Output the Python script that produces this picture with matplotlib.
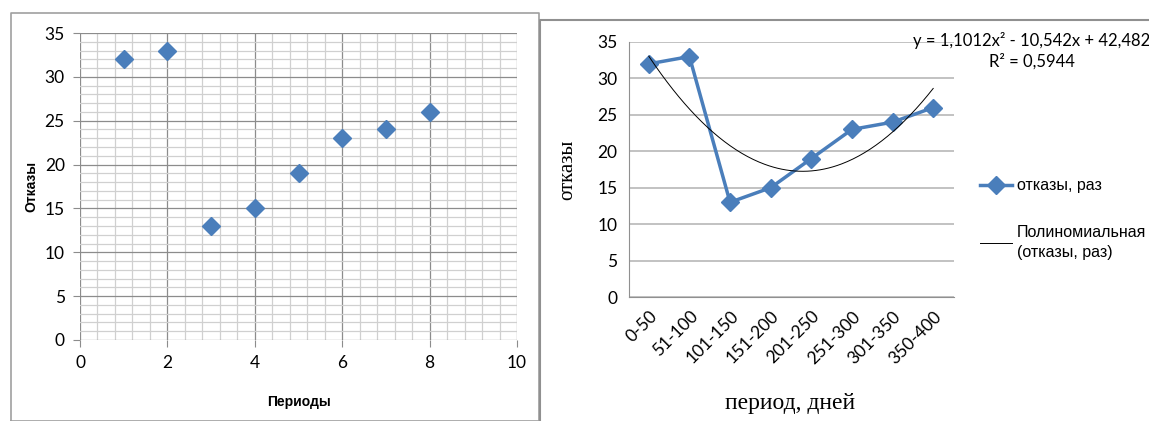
import numpy as np
import matplotlib.pyplot as plt
from matplotlib.lines import Line2D
from matplotlib.ticker import MultipleLocator

# data
periods = [1, 2, 3, 4, 5, 6, 7, 8]
failures = [32, 33, 13, 15, 19, 23, 24, 26]
intervals = ['0-50', '51-100', '101-150', '151-200', '201-250', '251-300', '301-350', '350-400']
trend_text = 'y = 1,1012x² - 10,542x + 42,482\nR² = 0,5944'

narrow = ['Lato', 'DejaVu Sans']
serif = ['Liberation Serif', 'DejaVu Serif']
blue = '#4a7ebb'

fig = plt.figure(figsize=(11.49, 4.21), dpi=100)

# panel frames
fig.add_artist(Line2D([11/1149, 539/1149, 539/1149, 11/1149, 11/1149],
                      [0, 0, 1-13/421, 1-13/421, 0], color='#a0a0a0', lw=1.2))
fig.add_artist(Line2D([540/1149, 540/1149, 1], [0, 1-20/421, 1-20/421],
                      color='#909090', lw=1.5))

# left chart: scatter
ax1 = fig.add_axes([80/1149, 1-340/421, 437/1149, 307/421])
ax1.plot(periods, failures, linestyle='none', marker='D', markersize=9,
         color=blue)
ax1.set_xlim(0, 10)
ax1.set_ylim(0, 35)
ax1.xaxis.set_major_locator(MultipleLocator(2))
ax1.xaxis.set_minor_locator(MultipleLocator(0.4))
ax1.yaxis.set_major_locator(MultipleLocator(5))
ax1.yaxis.set_minor_locator(MultipleLocator(1))
ax1.grid(which='major', color='#8c8c8c', lw=0.9)
ax1.grid(which='minor', color='#d0d0d0', lw=0.9)
ax1.set_axisbelow(True)
for s in ax1.spines.values():
    s.set_visible(False)
ax1.tick_params(which='major', length=5, color='#8c8c8c', labelsize=12.5, pad=6)
ax1.tick_params(which='minor', length=0)
for lab in ax1.get_xticklabels() + ax1.get_yticklabels():
    lab.set_family(narrow)
ax1.set_xlabel('Периоды', fontsize=10, fontweight='bold', family='Liberation Sans')
ax1.set_ylabel('Отказы', fontsize=10, fontweight='bold', family='Liberation Sans')
ax1.xaxis.set_label_coords(0.5, -0.179)
ax1.yaxis.set_label_coords(-0.096, 0.5)

# right chart: line + polynomial trend
ax2 = fig.add_axes([628.5/1149, 1-297/421, 325/1149, 255/421])
xs = np.arange(len(intervals))
ax2.plot(xs, failures, color=blue, lw=2.5, marker='D', markersize=9,
         label='отказы, раз')
coef = np.polyfit(periods, failures, 2)
xt = np.linspace(1, 8, 200)
ax2.plot(xt - 1, np.polyval(coef, xt), color='black', lw=0.7,
         label='Полиномиальная\n(отказы, раз)')
ax2.set_xlim(-0.5, len(intervals) - 0.5)
ax2.set_ylim(0, 35)
ax2.set_xticks(xs)
ax2.set_xticklabels(intervals, rotation=45, ha='right', rotation_mode='anchor')
ax2.yaxis.set_major_locator(MultipleLocator(5))
ax2.grid(axis='y', color='#b8b8b8', lw=1.2)
ax2.set_axisbelow(True)
for k in ['top', 'right']:
    ax2.spines[k].set_visible(False)
ax2.spines['left'].set_color('#909090')
ax2.spines['bottom'].set_color('#909090')
ax2.tick_params(length=0, labelsize=12.5, pad=8)
for lab in ax2.get_xticklabels() + ax2.get_yticklabels():
    lab.set_family(narrow)
ax2.set_ylabel('отказы', fontsize=15, family=serif)
ax2.set_xlabel('период, дней', fontsize=17, family=serif)
ax2.yaxis.set_label_coords(-0.158, 0.5)
ax2.xaxis.set_label_coords(0.497, -0.376)
fig.text(1032/1149, 1-32/421, trend_text, ha='center', va='top',
         fontsize=12, family=narrow, linespacing=1.3)
leg = ax2.legend(loc='upper left', bbox_to_anchor=(974/1149, 1-172/421),
                 bbox_transform=fig.transFigure, frameon=False,
                 prop={'family': 'Liberation Sans', 'size': 11.5}, handlelength=2.0,
                 handletextpad=0.3, labelspacing=2.0, borderaxespad=0)
for t in leg.get_texts():
    t.set_linespacing(1.4)

fig.savefig('out.png', dpi=100)
